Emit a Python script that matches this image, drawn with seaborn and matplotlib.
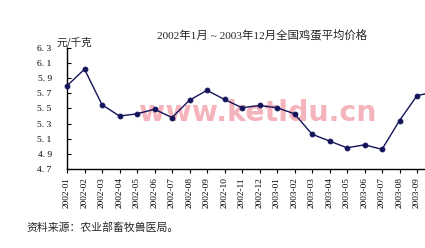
import matplotlib
matplotlib.use("Agg")
import matplotlib.pyplot as plt
import seaborn as sns
import pandas as pd

months = ["2002-01", "2002-02", "2002-03", "2002-04", "2002-05", "2002-06",
          "2002-07", "2002-08", "2002-09", "2002-10", "2002-11", "2002-12",
          "2003-01", "2003-02", "2003-03", "2003-04", "2003-05", "2003-06",
          "2003-07", "2003-08", "2003-09", "2003-10"]
prices = [5.80, 6.02, 5.55, 5.40, 5.43, 5.49, 5.38, 5.61, 5.74, 5.62, 5.51,
          5.54, 5.51, 5.43, 5.16, 5.07, 4.98, 5.02, 4.96, 5.34, 5.67, 5.72]
y_ticks = [4.7, 4.9, 5.1, 5.3, 5.5, 5.7, 5.9, 6.1, 6.3]
n_labeled = 21  # labels visible in the cropped reference: 2002-01 .. 2003-09

title = "2002年1月 ~ 2003年12月全国鸡蛋平均价格"
unit = "元/千克"
source = "资料来源：农业部畜牧兽医局。"
watermark = "www.ketldu.cn"

df = pd.DataFrame({"idx": range(len(months)), "price": prices})

sns.set_style("white")
plt.rcParams["font.family"] = ["Liberation Serif", "Noto Sans CJK SC", "DejaVu Sans"]

fig = plt.figure(figsize=(4.25, 2.48), dpi=100)
W, H = 425, 248
ax = fig.add_axes([67 / W, 1 - 169 / H, 420 / W, 121 / H])

ax.text(258 / W, 1 - 113 / H, watermark, transform=fig.transFigure,
        ha="center", va="center", fontsize=20.5, fontweight="bold",
        color="#f5b3bc", family=["DejaVu Sans"], zorder=0.5)

color = "#14145a"
sns.lineplot(data=df, x="idx", y="price", ax=ax, color=color, linewidth=1.0,
             marker="o", markersize=3.4, markeredgecolor=color,
             markerfacecolor=color, clip_on=False, zorder=3)

ax.set_xlim(0, 24)
ax.set_ylim(4.7, 6.3)
ax.set_yticks(y_ticks)
ax.set_yticklabels([f"{v:.1f}".replace(".", ". ") for v in y_ticks], fontsize=6.8)
ax.set_xticks(range(n_labeled))
ax.set_xticklabels(months[:n_labeled], rotation=90, fontsize=6.7)
ax.set_xlabel("")
ax.set_ylabel("")

for s in ["top", "right"]:
    ax.spines[s].set_visible(False)
for s in ["left", "bottom"]:
    ax.spines[s].set_color("black")
    ax.spines[s].set_linewidth(1.0)

ax.tick_params(axis="y", direction="in", length=3, width=0.8, pad=11, colors="black")
ax.tick_params(axis="x", direction="out", length=3, width=0.8, pad=3, colors="black")
ax.tick_params(left=True, bottom=True)

fig.text(262 / W, 1 - 35 / H, title, ha="center", va="center", fontsize=8.2,
         family=["Liberation Serif", "Noto Sans CJK SC"])
fig.text(56 / W, 1 - 42 / H, unit, ha="left", va="center", fontsize=7.6,
         family=["Noto Sans CJK SC"])
fig.text(26 / W, 1 - 228 / H, source, ha="left", va="center", fontsize=7.8,
         family=["Noto Sans CJK SC"])

fig.savefig("out.png", dpi=100)
